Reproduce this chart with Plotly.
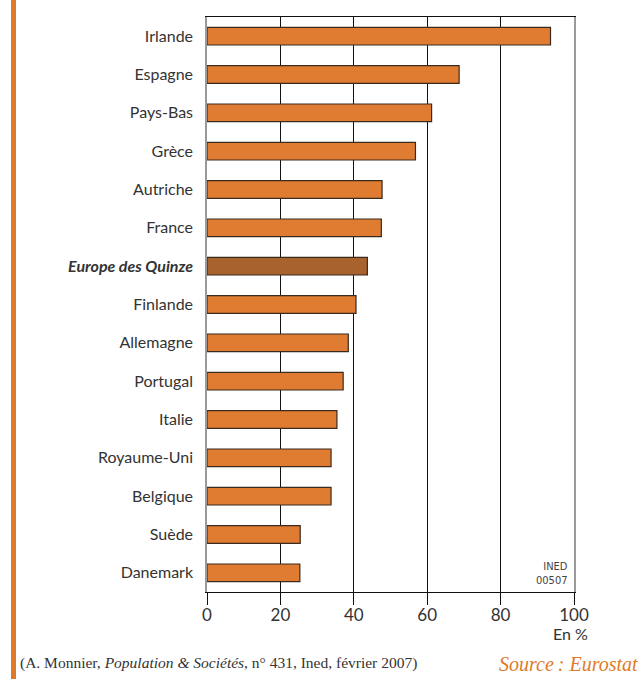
import plotly.graph_objects as go

countries = ["Irlande", "Espagne", "Pays-Bas", "Grèce", "Autriche", "France",
             "Europe des Quinze", "Finlande", "Allemagne", "Portugal", "Italie",
             "Royaume-Uni", "Belgique", "Suède", "Danemark"]
values = [93.6, 68.7, 61.2, 56.8, 47.7, 47.5, 43.7, 40.6, 38.5, 37.1, 35.4,
          33.8, 33.8, 25.4, 25.3]
highlight = "Europe des Quinze"
x_ticks = [0, 20, 40, 60, 80, 100]

ORANGE = "#E07C32"
BROWN = "#A8622E"
TEXT = "#333333"

W, H = 640, 679
L, R, T, B = 207, 66, 17, 87
PW = W - L - R
PH = H - T - B


def px_x(px):
    return (px - L) / PW


def px_y(py):
    return 1 - (py - T) / PH


colors = [BROWN if c == highlight else ORANGE for c in countries]
ticktext = ["<b><i>%s</i></b>" % c if c == highlight else c for c in countries]
n = len(countries)
boundaries = [i - 0.5 for i in range(n + 1)]

fig = go.Figure()
fig.add_trace(go.Bar(
    x=values, y=countries, orientation="h",
    marker=dict(color=colors, line=dict(color="#3b2a1e", width=1.2)),
    width=0.46, showlegend=False, hoverinfo="x+y",
))

fig.update_layout(
    width=W, height=H,
    margin=dict(l=L, r=R, t=T, b=B, pad=0),
    paper_bgcolor="white", plot_bgcolor="white",
    font=dict(family="Lato, 'Open Sans', sans-serif", size=16, color=TEXT),
    xaxis=dict(
        range=[0, 100], tickvals=x_ticks, ticks="outside", ticklen=7,
        tickcolor="#111111", tickwidth=1.3,
        minor=dict(tickvals=x_ticks, ticks="outside", ticklen=12,
                   tickcolor="#111111", tickwidth=1.3, showgrid=False),
        showgrid=True, gridcolor="#111111", gridwidth=1.3,
        zeroline=False, showline=True, linecolor="#111111", linewidth=1.3,
        mirror=True, tickfont=dict(size=17, color=TEXT), fixedrange=True,
    ),
    yaxis=dict(
        categoryorder="array", categoryarray=countries,
        range=[n - 0.5, -0.5], tickvals=countries, ticktext=ticktext,
        ticks="outside", ticklen=9, tickcolor="rgba(0,0,0,0)",
        showgrid=False, zeroline=False,
        showline=True, linecolor="#9a9a9a", linewidth=1.5, mirror=True,
        tickfont=dict(size=16, color=TEXT), fixedrange=True,
    ),
    yaxis2=dict(
        overlaying="y", side="left", range=[n - 0.5, -0.5],
        tickvals=boundaries, ticks="outside", ticklen=18,
        tickcolor="#111111", tickwidth=1.3, showticklabels=False,
        showgrid=False, zeroline=False, showline=False, fixedrange=True,
    ),
)

# orange stripe on the left edge
fig.add_shape(type="rect", xref="paper", yref="paper",
              x0=px_x(11), x1=px_x(16), y0=px_y(H + 5), y1=px_y(-5),
              fillcolor="#E07A28", line=dict(width=0), layer="above")

fig.add_annotation(text="En %", xref="x", x=100, xshift=-4, yref="paper", y=0,
                   yanchor="top", yshift=-30, showarrow=False,
                   font=dict(size=16, color=TEXT))
fig.add_annotation(text="INED<br>00507", xref="x", x=100, xanchor="right",
                   xshift=-4, yref="paper", y=0, yanchor="bottom", yshift=3,
                   showarrow=False, align="right",
                   font=dict(family="'DejaVu Sans Condensed', 'Liberation Sans Narrow', 'Liberation Sans'",
                             size=11, color="#444444"))
fig.add_annotation(text="(A. Monnier, <i>Population &amp; Sociétés</i>, n° 431, Ined, février 2007)",
                   xref="paper", x=px_x(18), xanchor="left",
                   yref="paper", y=px_y(663), yanchor="middle", showarrow=False,
                   font=dict(family="'Liberation Serif', serif", size=15.5, color=TEXT))
fig.add_annotation(text="<i>Source\u2009: Eurostat</i>",
                   xref="paper", x=px_x(640), xanchor="right",
                   yref="paper", y=px_y(664), yanchor="middle", showarrow=False,
                   font=dict(family="'Liberation Serif', serif", size=20, color="#E07A28"))

fig.write_html("out.html", config={"displayModeBar": False},
               post_script="document.body.style.margin='0';document.body.style.padding='0';")
